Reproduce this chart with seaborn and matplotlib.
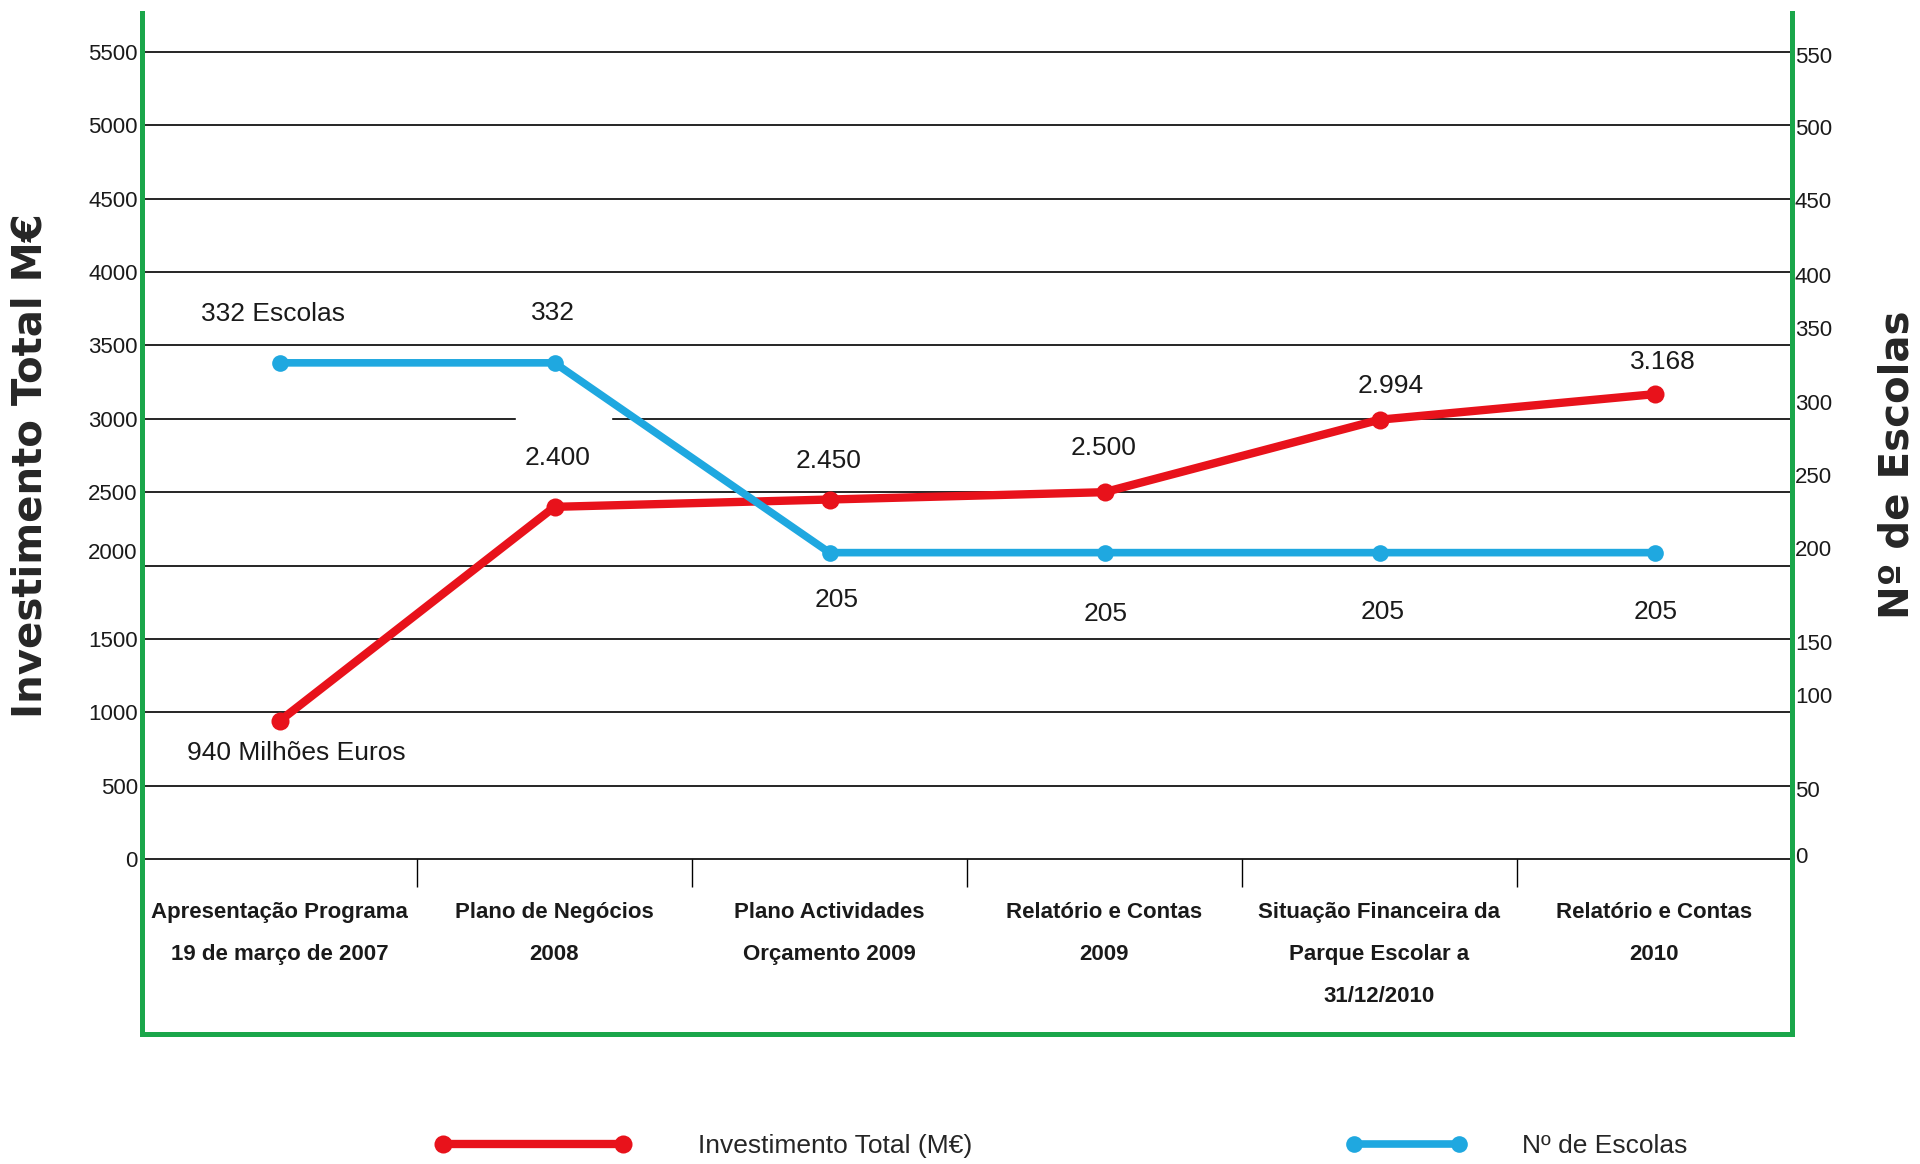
"""Parque Escolar: investimento total (M€) vs nº de escolas, dual-axis line chart."""
import matplotlib.pyplot as plt
import pandas as pd
import seaborn as sns
from matplotlib.lines import Line2D
from matplotlib.patches import Rectangle

STAGES = [
    "Apresentação Programa\n19 de março de 2007",
    "Plano de Negócios\n2008",
    "Plano Actividades\nOrçamento 2009",
    "Relatório e Contas\n2009",
    "Situação Financeira da\nParque Escolar a\n31/12/2010",
    "Relatório e Contas\n2010",
]
INVESTIMENTO = [940, 2400, 2450, 2500, 2994, 3168]
ESCOLAS = [332, 332, 205, 205, 205, 205]
INV_LABELS = ["940 Milhões Euros", "2.400", "2.450", "2.500", "2.994", "3.168"]
ESC_LABELS = ["332 Escolas", "332", "205", "205", "205", "205"]
LEFT_TICKS = [0, 500, 1000, 1500, 2000, 2500, 3000, 3500, 4000, 4500, 5000, 5500]
RIGHT_TICKS = [0, 50, 100, 150, 200, 250, 300, 350, 400, 450, 500, 550]

# label placement (the original has some tick labels nudged off their gridlines)
LEFT_TICK_POS = [0, 500, 1000, 1500, 2100, 2500, 3000, 3500, 4000, 4500, 5000, 5500]
RIGHT_TICK_POS = [3, 47, 110, 145, 208, 257, 306, 355, 391, 441, 490, 538]
INV_OFFSETS = [(12, -23), (2, 35), (-1, 28), (-1, 32), (8, 24), (6, 23)]
ESC_OFFSETS = [(-5, 35), (-1, 36), (5, -34), (1, -44), (2, -43), (1, -43)]

RED = "#e8121b"
BLUE = "#1fa8e0"
GREEN = "#1aa64a"
INK = "#1a1a1a"

sns.set_theme(style="white")
plt.rcParams["font.family"] = ["Liberation Sans", "DejaVu Sans"]

df = pd.DataFrame({"pos": range(len(STAGES)), "inv": INVESTIMENTO, "esc": ESCOLAS})

fig = plt.figure(figsize=(19.2, 11.64), dpi=100)
ax = fig.add_axes([142 / 1920, 305 / 1164, 1650 / 1920, 807 / 1164])

for v in LEFT_TICKS:
    ax.axhline(v, color="black", lw=1.2, zorder=1, clip_on=False)
# white gap in one gridline, as in the original
ax.add_patch(Rectangle((0.86, 2950), 0.345, 100, color="white", zorder=1.5))

sns.lineplot(data=df, x="pos", y="inv", ax=ax, color=RED, lw=6, marker="o",
             markersize=13, markeredgecolor=RED, markeredgewidth=0, zorder=3)

ax.set_xlim(-0.5, len(STAGES) - 0.5)
ax.set_ylim(0, 5500)
ax.set_xticks(range(len(STAGES)), STAGES, fontsize=16, fontweight="bold", linespacing=2.3)
ax.set_xticks([i + 0.5 for i in range(len(STAGES) - 1)], minor=True)
ax.tick_params(axis="x", which="major", length=0, pad=31, colors=INK)
ax.tick_params(axis="x", which="minor", bottom=True, length=20, width=1, color="black", direction="out")
ax.set_yticks(LEFT_TICK_POS, [str(v) for v in LEFT_TICKS], fontsize=16)
ax.tick_params(axis="y", which="both", length=0, pad=3, labelcolor=INK)
ax.set_xlabel("")
ax.set_ylabel("Investimento Total M€", family=["DejaVu Sans"], fontweight="bold", fontsize=29,
              ha="center", va="center")
ax.yaxis.set_label_coords(-0.0673, 0.488)
for s in ax.spines.values():
    s.set_visible(False)

for i, (lab, off) in enumerate(zip(INV_LABELS, INV_OFFSETS)):
    ax.annotate(lab, (i, INVESTIMENTO[i]), xytext=off, textcoords="offset points",
                ha="center", va="center", fontsize=19, color=INK)

ax2 = ax.twinx()
sns.lineplot(data=df, x="pos", y="esc", ax=ax2, color=BLUE, lw=5.5, marker="o",
             markersize=12, markeredgecolor=BLUE, markeredgewidth=0, zorder=3)
ax2.set_ylim(0, 540)
ax2.set_yticks(RIGHT_TICK_POS, [str(v) for v in RIGHT_TICKS], fontsize=16)
ax2.tick_params(axis="y", length=0, pad=2, labelcolor=INK)
ax2.set_ylabel("Nº de Escolas", family=["DejaVu Sans"], fontweight="bold", fontsize=29,
               rotation=90, ha="center", va="center")
ax2.yaxis.set_label_coords(1.0642, 0.488)
for s in ax2.spines.values():
    s.set_visible(False)

for i, (lab, off) in enumerate(zip(ESC_LABELS, ESC_OFFSETS)):
    ax2.annotate(lab, (i, ESCOLAS[i]), xytext=off, textcoords="offset points",
                 ha="center", va="center", fontsize=19, color=INK)

# green frame (open at the top)
x0, x1 = 142 / 1920, 1792 / 1920
y_top, y_bot = 1 - 13 / 1164, 1 - 1034 / 1164
frame = dict(color=GREEN, lw=3.6, transform=fig.transFigure, solid_capstyle="projecting")
fig.add_artist(Line2D([x0, x0], [y_top, y_bot], **frame))
fig.add_artist(Line2D([x1, x1], [y_top, y_bot], **frame))
fig.add_artist(Line2D([x0, x1], [y_bot, y_bot], **frame))

# legend: two separate entries with different handle lengths
leg_kw = dict(loc="center left", frameon=False, borderpad=0, borderaxespad=0,
              numpoints=2, fontsize=19)
h_inv = Line2D([], [], color=RED, lw=6, marker="o", markersize=13, markeredgewidth=0)
h_esc = Line2D([], [], color=BLUE, lw=5.5, marker="o", markersize=12, markeredgewidth=0)
fig.legend([h_inv], ["Investimento Total (M€)"], bbox_to_anchor=(435 / 1920, 1 - 1146 / 1164),
           handlelength=7.42, handletextpad=2.55, **leg_kw)
fig.legend([h_esc], ["Nº de Escolas"], bbox_to_anchor=(1346 / 1920, 1 - 1146 / 1164),
           handlelength=4.58, handletextpad=2.08, **leg_kw)

fig.savefig("out.png", dpi=100, facecolor="white")
